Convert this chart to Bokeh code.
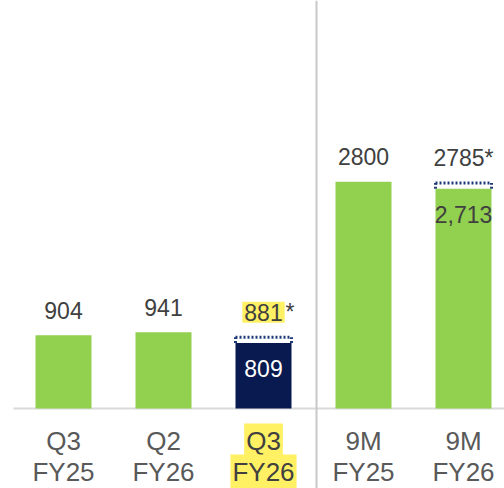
from bokeh.plotting import figure
from bokeh.models import Range1d, Span
from bokeh.core.properties import value
from bokeh.embed import file_html
from bokeh.resources import INLINE

# ---- data ----
categories = ["Q3\nFY25", "Q2\nFY26", "Q3\nFY26", "9M\nFY25", "9M\nFY26"]
bar_values = [904, 941, 809, 2800, 2713]
outline_values = [None, None, 881, None, 2785]
top_labels = ["904", "941", "881", "2800", "2785"]
starred = [False, False, True, False, True]
inner_labels = ["", "", "809", "", "2,713"]
highlighted = [False, False, True, False, False]
bar_colors = ["#92D050", "#92D050", "#081A4F", "#92D050", "#92D050"]
inner_colors = ["#404040", "#404040", "#FFFFFF", "#404040", "#404040"]

GREY = "#595959"
DARK = "#404040"
NAVY_DOT = "#1F3A7A"
YELLOW = "#FFF064"
FONT = value("Liberation Sans")

idx = list(range(len(categories)))
bw = 0.56

p = figure(width=504, height=488, output_backend="svg", toolbar_location=None,
           x_range=Range1d(-0.63, 4.41), y_range=Range1d(-988, 5039),
           x_axis_location=None, y_axis_location=None, min_border=0)
p.grid.visible = False
p.outline_line_color = None
p.background_fill_color = "white"
p.border_fill_color = "white"

# divider between quarterly and nine-month groups
p.add_layout(Span(location=2.53, dimension="height", line_color="#C8C8C8", line_width=2))
# baseline
p.segment(x0=[idx[0] - 0.5], y0=[0], x1=[idx[-1] + 0.6], y1=[0],
          line_color="#D9D9D9", line_width=2)

# dotted outlines for the "*" values
sx0, sy0, sx1, sy1 = [], [], [], []
for i, (b, o) in enumerate(zip(bar_values, outline_values)):
    if o is None:
        continue
    l, r = i - bw / 2, i + bw / 2
    sx0 += [l, l, r]
    sx1 += [r, l, r]
    sy0 += [o, b, b]
    sy1 += [o, o, o]
p.segment(x0=sx0, y0=sy0, x1=sx1, y1=sy1, line_color=NAVY_DOT, line_width=3,
          line_dash="2 2")

# bars
p.vbar(x=idx, top=bar_values, width=bw, fill_color=bar_colors, line_color=None)

# top value labels
lab_y = [o if o is not None else b for b, o in zip(bar_values, outline_values)]
plain_x, plain_y, plain_t = [], [], []
hi_x, hi_y, hi_t = [], [], []
for i in idx:
    if highlighted[i]:
        hi_x.append(i); hi_y.append(lab_y[i]); hi_t.append(top_labels[i])
    else:
        plain_x.append(i); plain_y.append(lab_y[i])
        plain_t.append(top_labels[i] + ("*" if starred[i] else ""))
VFS = "23px"
p.text(x=plain_x, y=plain_y, text=plain_t, text_align="center", text_baseline="middle",
       y_offset=-25, text_font=FONT, text_font_size=VFS, text_color=DARK)
p.text(x=hi_x, y=hi_y, text=hi_t, text_align="center", text_baseline="middle",
       y_offset=-25, text_font=FONT, text_font_size=VFS, text_color=DARK,
       background_fill_color=YELLOW, padding=2)
star_x = [i for i in idx if highlighted[i] and starred[i]]
star_y = [lab_y[i] for i in star_x]
p.text(x=star_x, y=star_y, text=["*"] * len(star_x), text_align="left",
       text_baseline="middle", x_offset=22, y_offset=-25, text_font=FONT,
       text_font_size=VFS, text_color=DARK)

# inner labels
in_x = [i for i in idx if inner_labels[i]]
p.text(x=in_x, y=[bar_values[i] for i in in_x], text=[inner_labels[i] for i in in_x],
       text_align="center", text_baseline="middle", y_offset=26, text_font=FONT,
       text_font_size=VFS, text_color=[inner_colors[i] for i in in_x])

# category labels (two lines)
lines = [c.split("\n") for c in categories]
for li, off in ((0, 32), (1, 63)):
    nx = [i for i in idx if not highlighted[i]]
    hx = [i for i in idx if highlighted[i]]
    p.text(x=nx, y=[0] * len(nx), text=[lines[i][li] for i in nx], text_align="center",
           text_baseline="middle", y_offset=off, text_font=FONT, text_font_size="26px",
           text_color=GREY)
    p.text(x=hx, y=[0] * len(hx), text=[lines[i][li] for i in hx], text_align="center",
           text_baseline="middle", y_offset=off, text_font=FONT, text_font_size="26px",
           text_color=DARK, background_fill_color=YELLOW, padding=2)

open("out.html", "w").write(file_html(p, INLINE))
